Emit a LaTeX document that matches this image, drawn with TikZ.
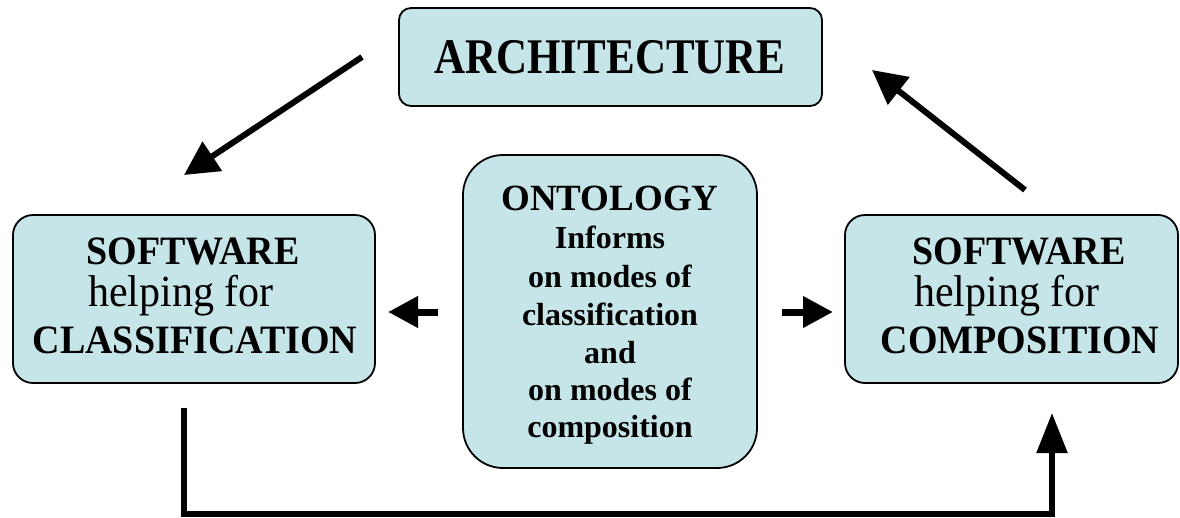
\documentclass[tikz,border=0pt]{standalone}
\usepackage{fontspec}
\setmainfont{Liberation Serif}
\usetikzlibrary{arrows.meta}
\definecolor{boxfill}{RGB}{198,229,232}
\begin{document}
\begin{tikzpicture}[x=1pt,y=-1pt,
  box/.style={draw=black, line width=1.8pt, fill=boxfill, rectangle, inner sep=0pt},
  txt/.style={anchor=base, inner sep=0pt, text=black},
  bigb/.style={font=\fontsize{38}{42}\selectfont\bfseries},
  reg/.style={font=\fontsize{42}{46}\selectfont},
  ontb/.style={font=\fontsize{32}{36}\selectfont\bfseries},
  conn/.style={line width=6pt, line join=miter, -{Triangle[length=34pt,width=34pt]}},
  shortconn/.style={line width=7pt, -{Triangle[length=30pt,width=30pt]}}
]
\useasboundingbox (0,0) rectangle (1180,517);
% boxes
\node[box, rounded corners=12pt, minimum width=423pt, minimum height=98pt] (arch) at (610.5,57) {};
\node[box, rounded corners=20pt, minimum width=362pt, minimum height=168pt] (left) at (194,299) {};
\node[box, rounded corners=20pt, minimum width=333pt, minimum height=168pt] (right) at (1011.5,299) {};
\node[box, rounded corners=40pt, minimum width=294pt, minimum height=313pt] (ont) at (610,311.5) {};
% texts
\node[txt, font=\fontsize{43}{46}\selectfont\bfseries] (archt) at (610,73) {\scalebox{1}[1.16]{ARCHITECTURE}};
\node[txt, bigb] (l1) at (193,264) {\scalebox{1}[1.06]{SOFTWARE}};
\node[txt, reg] (l2) at (181,306) {\scalebox{1}[1.06]{helping for}};
\node[txt, bigb] (l3) at (195,353) {\scalebox{1}[1.06]{CLASSIFICATION}};
\node[txt, bigb] (r1) at (1019,264) {\scalebox{1}[1.06]{SOFTWARE}};
\node[txt, reg] (r2) at (1007,306) {\scalebox{1}[1.06]{helping for}};
\node[txt, bigb] (r3) at (1020,353) {\scalebox{1}[1.06]{COMPOSITION}};
\node[txt, font=\fontsize{37}{40}\selectfont\bfseries] (o1) at (610,210) {ONTOLOGY};
\node[txt, ontb] (o2) at (610,248) {Informs};
\node[txt, ontb] (o3) at (610,287) {on modes of};
\node[txt, ontb] (o4) at (610,325) {classification};
\node[txt, ontb] (o5) at (610,363) {and};
\node[txt, ontb] (o6) at (610,400) {on modes of};
\node[txt, ontb] (o7) at (610,437) {composition};
% connector ends
\coordinate (a1s) at (362,57);
\coordinate (a1e) at (184,175);
\coordinate (a2s) at (1025,190);
\coordinate (a2e) at (872,70);
\coordinate (s1s) at (438,312);
\coordinate (s1e) at (388,312);
\coordinate (s2s) at (782,312);
\coordinate (s2e) at (833,312);
\coordinate (b0) at (184,408);
\coordinate (b1) at (184,514);
\coordinate (b2) at (1052,514);
\coordinate (b3) at (1052,413);
% connectors
\draw[conn] (a1s) -- (a1e);
\draw[conn] (a2s) -- (a2e);
\draw[shortconn] (s1s) -- (s1e);
\draw[shortconn] (s2s) -- (s2e);
\draw[line width=5.5pt, line join=miter, -{Triangle[length=40pt,width=30pt]}] (b0) -- (b1) -- (b2) -- (b3);
\end{tikzpicture}
\end{document}
